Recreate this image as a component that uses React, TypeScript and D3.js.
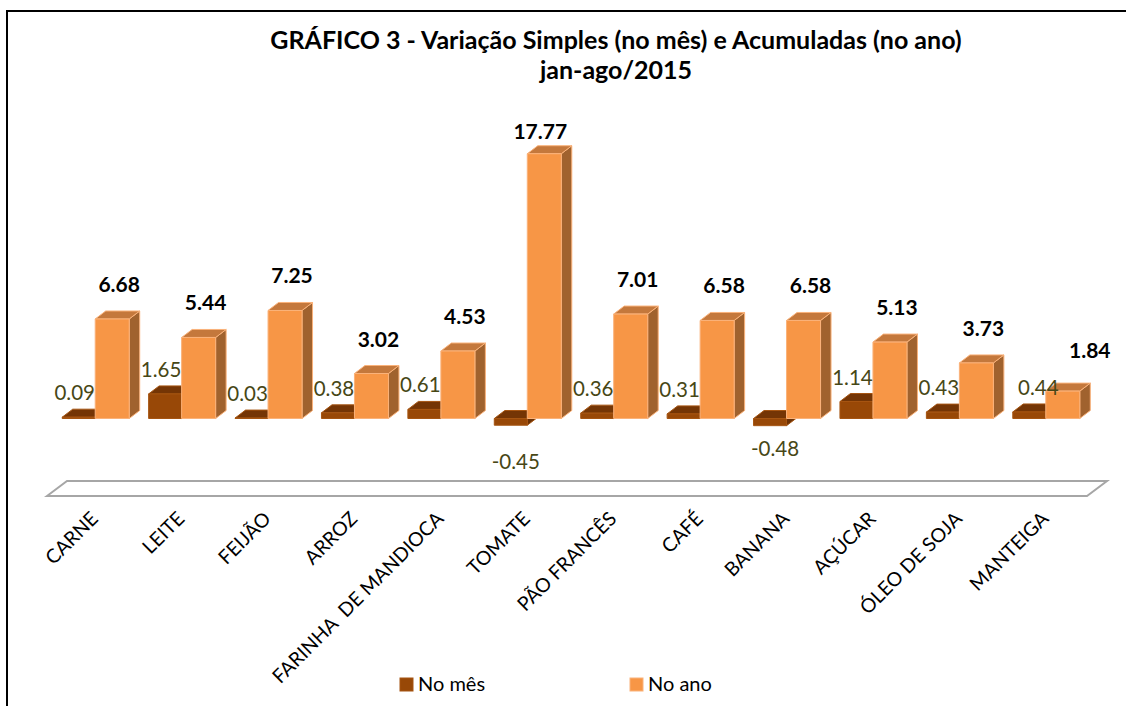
import React from 'react';
import * as d3 from 'd3';

// categorias e valores (%)
const categories = ['CARNE', 'LEITE', 'FEIJÃO', 'ARROZ', 'FARINHA  DE MANDIOCA', 'TOMATE', 'PÃO FRANCÊS', 'CAFÉ', 'BANANA', 'AÇÚCAR', 'ÓLEO DE SOJA', 'MANTEIGA'];
const noMes = [0.09, 1.65, 0.03, 0.38, 0.61, -0.45, 0.36, 0.31, -0.48, 1.14, 0.43, 0.44];
const noAno = [6.68, 5.44, 7.25, 3.02, 4.53, 17.77, 7.01, 6.58, 6.58, 5.13, 3.73, 1.84];
const seriesNames = ['No mês', 'No ano'];

const W = 1126;
const H = 706;
const FONT = 'Lato, "Open Sans", sans-serif';
const DX = 10.5; // profundidade 3D
const DY = -8;

const colors = {
    mes: { front: '#984807', top: '#743505', side: '#6a3004', stroke: '#a65512' },
    ano: { front: '#F79646', top: '#C4783C', side: '#A0622E', stroke: '#FAB27A' },
};

// ajustes manuais dos rótulos (como no original)
const nudgeMes: Record<string, [number, number]> = { TOMATE: [0, 6], BANANA: [0, -8], MANTEIGA: [13, 0] };
const nudgeAno: Record<string, [number, number]> = { TOMATE: [-11, 12], MANTEIGA: [20, -6] };

type BarProps = { x0: number; w: number; y0: number; y1: number; c: typeof colors.mes };

const Bar3D: React.FC<BarProps> = ({ x0, w, y0, y1, c }) => {
    const top = Math.min(y0, y1);
    const bot = Math.max(y0, y1);
    const side = [[x0 + w, top], [x0 + w + DX, top + DY], [x0 + w + DX, bot + DY], [x0 + w, bot]];
    const lid = [[x0, top], [x0 + DX, top + DY], [x0 + w + DX, top + DY], [x0 + w, top]];
    const pts = (p: number[][]) => p.map((d) => d.join(',')).join(' ');
    return (
        <g strokeWidth={1} strokeLinejoin="round">
            <polygon points={pts(side)} fill={c.side} stroke={c.stroke} />
            <polygon points={pts(lid)} fill={c.top} stroke={c.stroke} />
            <rect x={x0} y={top} width={w} height={bot - top} fill={c.front} stroke={c.stroke} />
        </g>
    );
};

const App: React.FC = () => {
    const x = d3.scaleBand<string>().domain(categories).range([52, 1089]);
    const y = d3.scaleLinear().domain([-5.2, 18]).range([496, 150.3]);
    const [xr0, xr1] = x.range();
    const floorY = y(-5.2);
    const floor = [
        [xr0 - 5, floorY],
        [xr0 + 15, floorY - 15],
        [xr1 + 18, floorY - 15],
        [xr1 - 2, floorY],
    ];
    const bw = 33;

    return (
        <svg width={W} height={H} style={{ position: 'absolute', left: 0, top: 0, display: 'block', background: '#fff' }} fontFamily={FONT}>
            <rect x={7} y={11} width={W + 20} height={H + 20} fill="#fff" stroke="#000" strokeWidth={2} />

            <text x={616} y={49} textAnchor="middle" fontSize={25} fontWeight="bold">
                GRÁFICO 3 - Variação Simples (no mês) e Acumuladas (no ano)
            </text>
            <text x={616} y={79} textAnchor="middle" fontSize={25} fontWeight="bold">
                jan-ago/2015
            </text>

            {/* piso */}
            <polygon points={floor.map((d) => d.join(',')).join(' ')} fill="#fff" stroke="#A6A6A6" strokeWidth={2} />

            {categories.map((cat, i) => {
                const c = (x(cat) ?? 0) + x.bandwidth() / 2;
                return (
                    <g key={cat}>
                        <Bar3D x0={c - bw} w={bw} y0={y(0)} y1={y(noMes[i])} c={colors.mes} />
                        <Bar3D x0={c} w={bw + 1} y0={y(0)} y1={y(noAno[i])} c={colors.ano} />
                    </g>
                );
            })}

            {/* rótulos de dados */}
            {categories.map((cat, i) => {
                const c = (x(cat) ?? 0) + x.bandwidth() / 2;
                const nm = nudgeMes[cat] ?? [0, 0];
                const na = nudgeAno[cat] ?? [0, 0];
                const vm = noMes[i];
                const mx = c - bw / 2 + (vm < 0 ? 5 : -4) + nm[0];
                const my = (vm < 0 ? y(vm) + 38 : y(vm) - 17) + nm[1];
                return (
                    <g key={cat}>
                        <text x={mx} y={my} textAnchor="middle" fontSize={20.5} fill="#474716">
                            {vm.toFixed(2)}
                        </text>
                        <text x={c + 24 + na[0]} y={y(noAno[i]) - 27 + na[1]} textAnchor="middle" fontSize={21} fontWeight="bold" fill="#000">
                            {noAno[i].toFixed(2)}
                        </text>
                    </g>
                );
            })}

            {/* eixo de categorias */}
            {categories.map((cat) => {
                const c = (x(cat) ?? 0) + x.bandwidth() / 2;
                return (
                    <text key={cat} transform={`translate(${c + 4},${520}) rotate(-45)`} textAnchor="end" fontSize={19.5} style={{ whiteSpace: 'pre' }}>
                        {cat}
                    </text>
                );
            })}

            {/* legenda */}
            {seriesNames.map((s, i) => {
                const lx = i === 0 ? 400 : 630;
                const c = i === 0 ? colors.mes : colors.ano;
                return (
                    <g key={s} transform={`translate(${lx},678)`}>
                        <rect width={13} height={13} fill={c.front} stroke={c.stroke} strokeWidth={1} />
                        <text x={18} y={13} fontSize={20}>
                            {s}
                        </text>
                    </g>
                );
            })}
        </svg>
    );
};

export default App;
